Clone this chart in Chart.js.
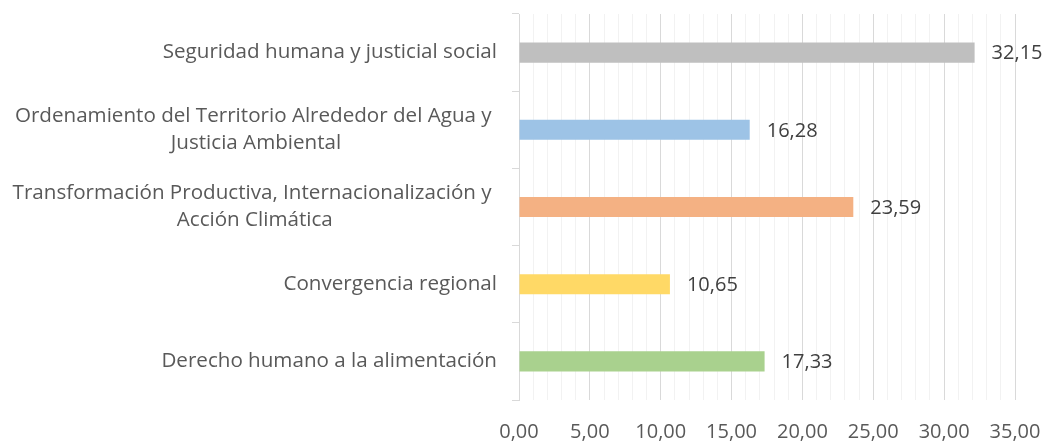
<!DOCTYPE html>
<html>
<head>
<meta charset="utf-8">
<script src="https://cdn.jsdelivr.net/npm/chart.js@4/dist/chart.umd.min.js"></script>
<style>
  html, body { margin: 0; padding: 0; background: #fff; }
  #wrap { width: 1045px; height: 443px; position: relative; }
</style>
</head>
<body>
<div id="wrap"><canvas id="c"></canvas></div>
<script>
const categories = [
  "Seguridad humana y justicial social",
  ["Ordenamiento del Territorio Alrededor del Agua y ", "Justicia Ambiental"],
  ["Transformación Productiva, Internacionalización y ", "Acción Climática"],
  "Convergencia regional",
  "Derecho humano a la alimentación"
];
const values = [32.15, 16.28, 23.59, 10.65, 17.33];
const barColors = ["#bfbfbf", "#9dc3e6", "#f4b183", "#ffd966", "#a9d18e"];
const xMin = 0, xMax = 35, xMajorStep = 5;

const FONT = "'Open Sans', sans-serif";
const fmt = v => v.toFixed(2).replace('.', ',');

const valueLabels = {
  id: 'valueLabels',
  afterDatasetsDraw(chart) {
    const ctx = chart.ctx;
    const meta = chart.getDatasetMeta(0);
    ctx.save();
    ctx.font = "20px " + FONT;
    ctx.fillStyle = "#404040";
    ctx.textAlign = "left";
    ctx.textBaseline = "middle";
    meta.data.forEach((bar, i) => {
      ctx.fillText(fmt(values[i]), bar.x + 17, bar.y + 1);
    });
    ctx.restore();
  }
};

const catLabels = {
  id: 'catLabels',
  afterDraw(chart) {
    const sc = chart.scales.y;
    const ctx = chart.ctx;
    ctx.save();
    ctx.font = "20.6px " + FONT;
    ctx.fillStyle = "#595959";
    ctx.textAlign = "center";
    ctx.textBaseline = "middle";
    const right = sc.right - 7 - 15;
    const lh = 27;
    categories.forEach((lab, i) => {
      const lines = Array.isArray(lab) ? lab : [lab];
      const w = Math.max(...lines.map(l => ctx.measureText(l).width));
      const cx = right - w / 2;
      const cy = sc.getPixelForTick(i);
      const y0 = cy - (lines.length - 1) * lh / 2;
      lines.forEach((l, k) => ctx.fillText(l, cx, y0 + k * lh));
    });
    ctx.restore();
  }
};

new Chart(document.getElementById('c'), {
  type: 'bar',
  data: {
    labels: categories,
    datasets: [{
      data: values,
      backgroundColor: barColors,
      borderWidth: 0,
      barPercentage: 0.26,
      categoryPercentage: 1.0
    }]
  },
  options: {
    indexAxis: 'y',
    responsive: true,
    maintainAspectRatio: false,
    animation: false,
    layout: { padding: { left: 0, right: 4, top: 14, bottom: 0 } },
    plugins: { legend: { display: false }, tooltip: { enabled: false } },
    scales: {
      x: {
        min: xMin, max: xMax,
        afterFit: s => { s.height = 43; s.paddingRight = 30; s.paddingLeft = 0; },
        border: { display: false },
        grid: {
          drawTicks: false,
          color: c => (c.tick && c.tick.value % xMajorStep === 0) ? '#d9d9d9' : '#f2f2f2',
          lineWidth: 1
        },
        ticks: {
          stepSize: 1,
          autoSkip: false,
          maxRotation: 0,
          padding: 20,
          color: '#595959',
          font: { family: FONT, size: 20 },
          callback: v => (v % xMajorStep === 0) ? fmt(v) : ''
        }
      },
      y: {
        afterFit: s => { s.width = 519; },
        border: { display: true, color: '#d9d9d9' },
        grid: { drawOnChartArea: false, drawTicks: true, tickLength: 7, color: '#d9d9d9', offset: true },
        ticks: { display: false }
      }
    }
  },
  plugins: [valueLabels, catLabels]
});
</script>
</body>
</html>
